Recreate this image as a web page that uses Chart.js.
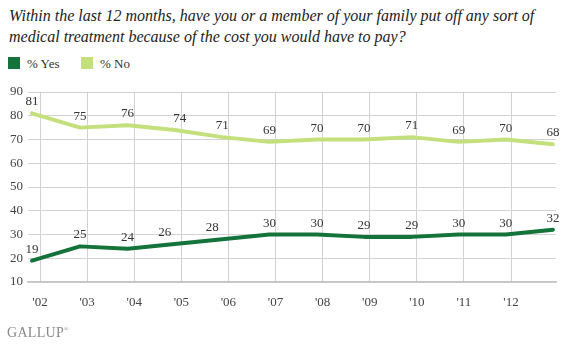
<!DOCTYPE html>
<html>
<head>
<meta charset="utf-8">
<script src="https://cdn.jsdelivr.net/npm/chart.js@4.4.1/dist/chart.umd.min.js"></script>
<style>
  html, body { margin: 0; padding: 0; background: #fff; }
  #wrap { position: relative; width: 564px; height: 344px; overflow: hidden; }
  #title { position: absolute; left: 9px; top: 5px; width: 550px; font-family: "Liberation Serif", "Times New Roman", serif; font-style: italic; font-size: 16px; line-height: 21px; color: #222; }
  #legend { position: absolute; left: 8px; top: 57px; font-family: "Liberation Serif", "Times New Roman", serif; font-size: 13px; color: #333; }
  .item { position: absolute; top: 0; white-space: nowrap; }
  .sw { display: inline-block; width: 12px; height: 12px; vertical-align: top; }
  .lab { position: absolute; left: 19px; top: -1px; }
  #logo { position: absolute; left: 7px; top: 325px; font-family: "Liberation Serif", "Times New Roman", serif; font-size: 14px; letter-spacing: 0.3px; color: #888; }
  #logo sup { font-size: 6px; vertical-align: top; position: relative; top: 1px; }
  canvas { position: absolute; left: 0; top: 0; }
</style>
</head>
<body>
<div id="wrap">
  <div id="title">Within the last 12 months, have you or a member of your family put off any sort of medical treatment because of the cost you would have to pay?</div>
  <div id="legend"></div>
  <canvas id="c" width="564" height="344"></canvas>
  <div id="logo">GALLUP<sup>®</sup></div>
</div>
<script>
// ---- data ----
const seriesNames = ['% Yes', '% No'];
const surveyDates = [2001.83, 2002.85, 2003.86, 2004.86, 2005.87, 2006.87, 2007.88, 2008.88, 2009.89, 2010.89, 2011.89, 2012.89];
const yesValues = [19, 25, 24, 26, 28, 30, 30, 29, 29, 30, 30, 32];
const noValues  = [81, 75, 76, 74, 71, 69, 70, 70, 71, 69, 70, 68];
const tickYears = [2002, 2003, 2004, 2005, 2006, 2007, 2008, 2009, 2010, 2011, 2012];
const yTicks = [10, 20, 30, 40, 50, 60, 70, 80, 90];

const colors = ['#14733a', '#c3e07c'];

// HTML legend
const legend = document.getElementById('legend');
const legendX = [0, 73];
seriesNames.forEach((n, i) => {
  const d = document.createElement('div');
  d.className = 'item';
  d.style.left = legendX[i] + 'px';
  d.innerHTML = '<span class="sw" style="background:' + colors[i] + '"></span><span class="lab">' + n + '</span>';
  legend.appendChild(d);
});

const serif = '"Liberation Serif", "Times New Roman", serif';

// small horizontal nudges of a few value labels (style only), keyed "dataset:index"
const labelNudge = { '0:3': -10, '0:4': -10, '1:3': 5 };

const valueLabels = {
  id: 'valueLabels',
  afterDatasetsDraw(chart) {
    const ctx = chart.ctx;
    ctx.save();
    ctx.font = '13px ' + serif;
    ctx.fillStyle = '#333';
    ctx.textAlign = 'center';
    ctx.textBaseline = 'alphabetic';
    chart.data.datasets.forEach((ds, di) => {
      const meta = chart.getDatasetMeta(di);
      meta.data.forEach((pt, i) => {
        const dx = labelNudge[di + ':' + i] || 0;
        ctx.fillText(String(ds.data[i].y), pt.x + dx, pt.y - 8);
      });
    });
    ctx.restore();
  }
};

const toPoints = vals => vals.map((v, i) => ({ x: surveyDates[i], y: v }));

new Chart(document.getElementById('c'), {
  type: 'line',
  data: {
    datasets: [
      { label: seriesNames[0], data: toPoints(yesValues), borderColor: colors[0], backgroundColor: colors[0], borderWidth: 4, pointRadius: 0, tension: 0, borderJoinStyle: 'round', borderCapStyle: 'round' },
      { label: seriesNames[1], data: toPoints(noValues), borderColor: colors[1], backgroundColor: colors[1], borderWidth: 4, pointRadius: 0, tension: 0, borderJoinStyle: 'round', borderCapStyle: 'round' }
    ]
  },
  options: {
    responsive: false,
    animation: false,
    layout: { padding: { left: 0, right: 8, top: 92, bottom: 32 } },
    plugins: { legend: { display: false }, tooltip: { enabled: false }, title: { display: false } },
    scales: {
      x: {
        type: 'linear',
        min: 2001.745,
        max: 2012.955,
        afterBuildTicks: s => { s.ticks = tickYears.map(v => ({ value: v })); },
        afterFit: s => { s.height = 30; },
        ticks: {
          autoSkip: false, maxRotation: 0, padding: 13,
          font: { family: serif, size: 13 }, color: '#444',
          callback: v => "'" + String(v).slice(2)
        },
        grid: { color: '#d2d2d2', lineWidth: 1, drawTicks: false },
        border: { display: true, color: '#c4c4c4', width: 1.5 }
      },
      y: {
        min: 10, max: 90,
        afterBuildTicks: s => { s.ticks = yTicks.map(v => ({ value: v })); },
        afterFit: s => { s.width = 28; },
        ticks: { padding: 5, font: { family: serif, size: 13 }, color: '#444' },
        grid: { color: '#d2d2d2', lineWidth: 1, drawTicks: false },
        border: { display: false }
      }
    }
  },
  plugins: [valueLabels]
});
</script>
</body>
</html>
